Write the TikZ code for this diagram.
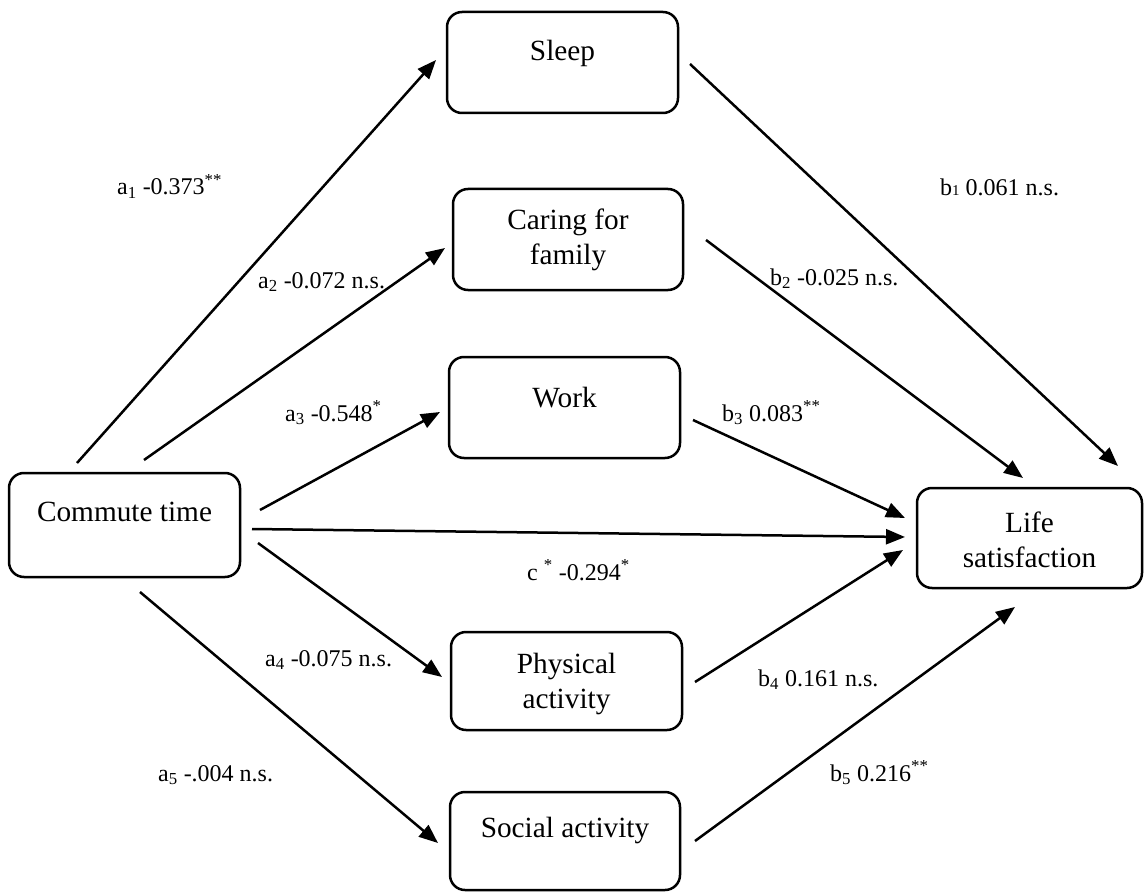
\documentclass[tikz,border=0pt]{standalone}
\usepackage{fontspec}
\setmainfont{Liberation Serif}
\usetikzlibrary{arrows.meta}
\begin{document}
\begin{tikzpicture}[x=1pt,y=-1pt,
  boxnode/.style={draw,line width=2.5pt,rounded corners=15pt,minimum width=#1,minimum height=100pt,inner sep=0pt},
  boxtext/.style={font=\fontsize{29.3}{35}\selectfont,align=center,inner sep=0pt},
  lab/.style={font=\fontsize{24}{28}\selectfont,anchor=base west,inner sep=0pt},
  conn/.style={line width=2.5pt,-{Triangle[length=19pt,width=15pt]}}]
\useasboundingbox (0,0) rectangle (1145,893);
% boxes
\node[boxnode=231pt,minimum height=101pt] (sleep) at (562.5,62.5) {};
\node[boxnode=230pt,minimum height=101pt] (care) at (568,239.5) {};
\node[boxnode=231pt,minimum height=101pt] (work) at (564.5,407.5) {};
\node[boxnode=231pt,minimum height=98pt] (phys) at (566.5,681) {};
\node[boxnode=230pt,minimum height=98pt] (soc) at (565,841) {};
\node[boxnode=231pt,minimum height=104pt] (comm) at (124.5,525) {};
\node[boxnode=225pt,minimum height=100pt] (life) at (1029.5,538) {};
% box texts
\node[boxtext] (tsleep) at (562.5,53) {Sleep};
\node[boxtext] (tcare) at (568,240) {Caring for\\family};
\node[boxtext] (twork) at (564.5,398) {Work};
\node[boxtext] (tphys) at (566.5,684) {Physical\\activity};
\node[boxtext] (tsoc) at (565,830) {Social activity};
\node[boxtext] (tcomm) at (124.5,512) {Commute time};
\node[boxtext] (tlife) at (1029.5,540) {Life\\satisfaction};
% connector end points
\coordinate (a1s) at (77,463);  \coordinate (a1e) at (436,60);
\coordinate (a2s) at (144,460); \coordinate (a2e) at (445,248);
\coordinate (a3s) at (260,510); \coordinate (a3e) at (440,412);
\coordinate (cs) at (252,529);  \coordinate (ce) at (905,537);
\coordinate (a4s) at (258,543); \coordinate (a4e) at (442,677);
\coordinate (a5s) at (140,592); \coordinate (a5e) at (438,843);
\coordinate (b1s) at (690,64);  \coordinate (b1e) at (1118,466);
\coordinate (b2s) at (706,240); \coordinate (b2e) at (1023,478);
\coordinate (b3s) at (693,420); \coordinate (b3e) at (905,518);
\coordinate (b4s) at (695,682); \coordinate (b4e) at (903,550);
\coordinate (b5s) at (695,841); \coordinate (b5e) at (1015,607);
\draw[conn] (a1s) -- (a1e);
\draw[conn] (a2s) -- (a2e);
\draw[conn] (a3s) -- (a3e);
\draw[conn] (cs) -- (ce);
\draw[conn] (a4s) -- (a4e);
\draw[conn] (a5s) -- (a5e);
\draw[conn] (b1s) -- (b1e);
\draw[conn] (b2s) -- (b2e);
\draw[conn] (b3s) -- (b3e);
\draw[conn] (b4s) -- (b4e);
\draw[conn] (b5s) -- (b5e);
% labels
\node[lab] (la1) at (117,195) {a\textsubscript{1} -0.373\textsuperscript{**}};
\node[lab] (la2) at (258,288) {a\textsubscript{2} -0.072 n.s.};
\node[lab] (la3) at (285,421) {a\textsubscript{3} -0.548\textsuperscript{*}};
\node[lab] (lc) at (527,580) {c \textsuperscript{*} -0.294\textsuperscript{*}};
\node[lab] (la4) at (265,666) {a\textsubscript{4} -0.075 n.s.};
\node[lab] (la5) at (158,781) {a\textsubscript{5} -.004 n.s.};
\node[lab] (lb1) at (940,196) {b{\fontsize{15}{15}\selectfont 1} 0.061 n.s.};
\node[lab] (lb2) at (770,285) {b\textsubscript{2} -0.025 n.s.};
\node[lab] (lb3) at (722,421) {b\textsubscript{3} 0.083\textsuperscript{**}};
\node[lab] (lb4) at (758,686) {b\textsubscript{4} 0.161 n.s.};
\node[lab] (lb5) at (830,781) {b\textsubscript{5} 0.216\textsuperscript{**}};
\end{tikzpicture}
\end{document}
